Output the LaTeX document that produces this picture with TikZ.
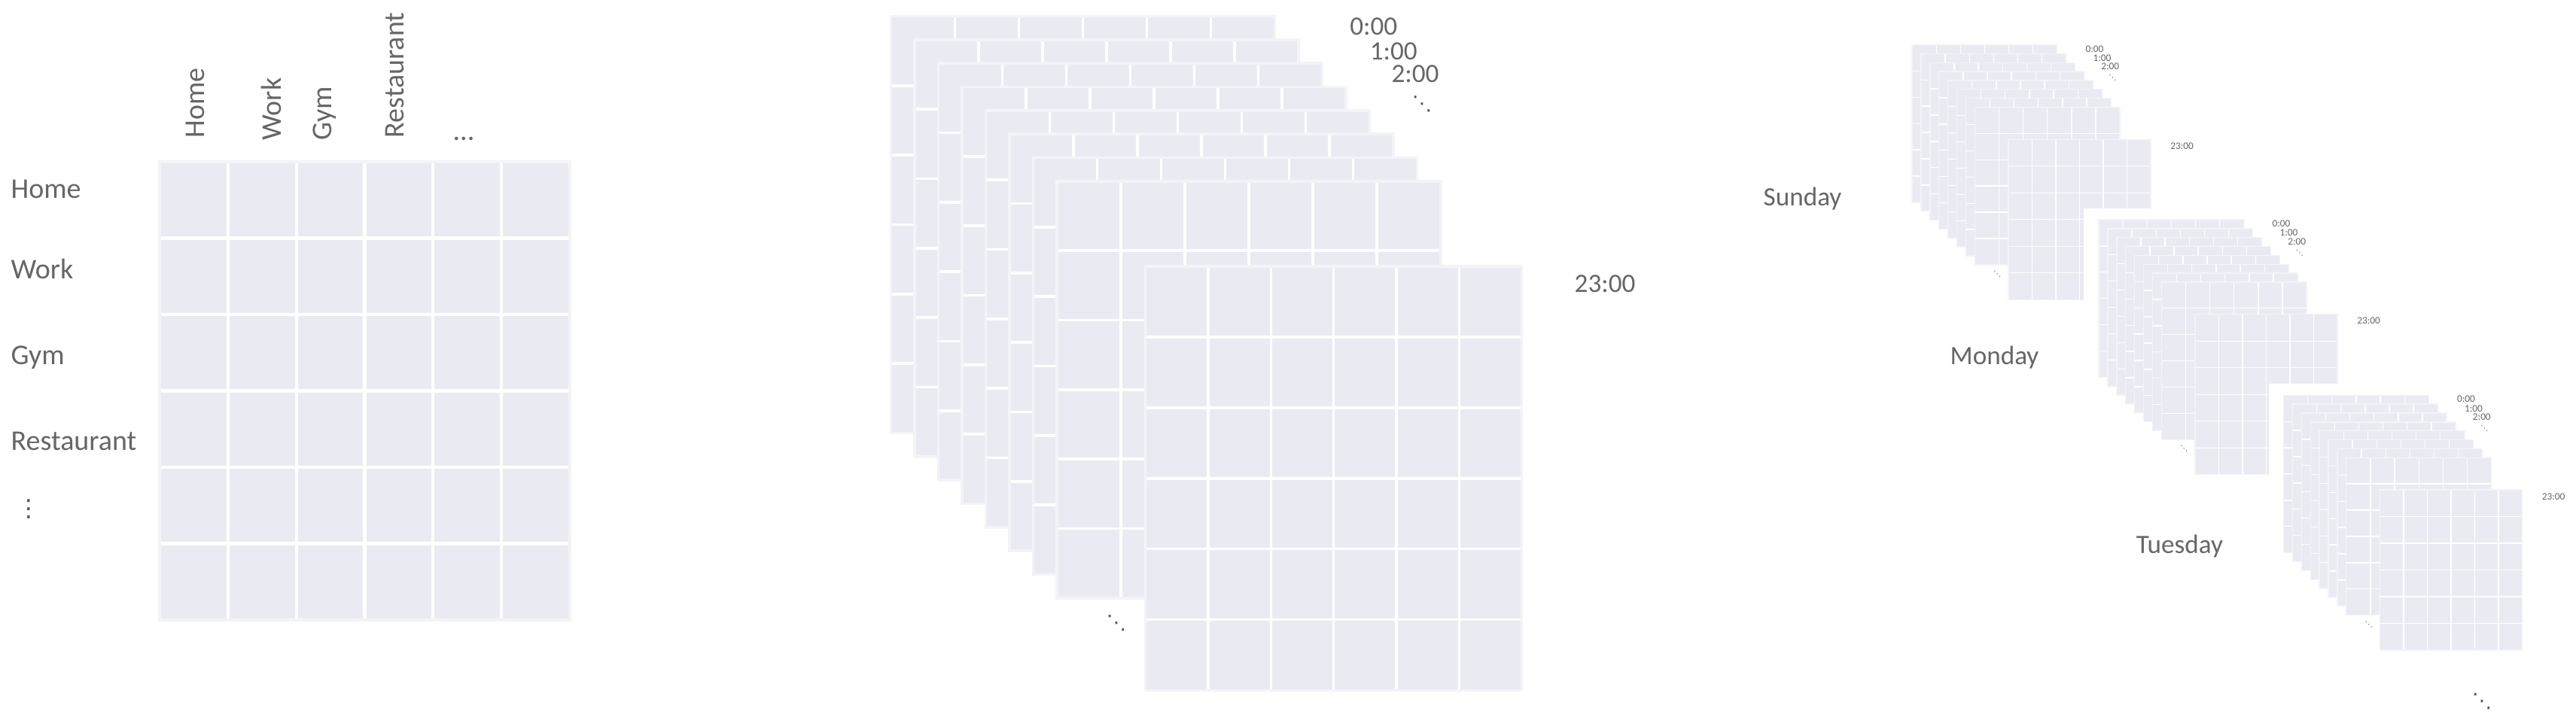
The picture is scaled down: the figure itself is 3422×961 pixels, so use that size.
\documentclass[tikz,border=0pt]{standalone}
\usepackage{fontspec}
\setmainfont{Carlito}
\newfontfamily\symfont{DejaVu Sans}
\definecolor{cellbg}{HTML}{EAEAF2}
\definecolor{celledge}{HTML}{F3F3F8}
\definecolor{txt}{HTML}{666666}
\tikzset{
  lbl/.style={text=txt,inner sep=0pt,font=\fontsize{10.8}{13}\selectfont},
  hr/.style={text=txt,inner sep=0pt,font=\fontsize{10}{12}\selectfont},
  dots/.style={text=txt!80!black,inner sep=0pt,font=\symfont\fontsize{7.5}{9}\selectfont},
}
% #1 x, #2 y, #3 w, #4 h, #5 line width
\newcommand\gridsheet[5]{%
  \fill[cellbg] (#1,#2) rectangle ++(#3,#4);
  \foreach \gi in {1,...,5}{
    \draw[white,line width=#5] ({#1+\gi*#3/6},#2) -- ++(0,#4);
    \draw[white,line width=#5] (#1,{#2+\gi*#4/6}) -- ++(#3,0);
  }
  \draw[celledge,line width=#5] (#1,#2) rectangle ++(#3,#4);
}
% #1 line width, #2 name prefix
\newcommand\hourstack[2]{%
  \foreach \k in {0,...,7}{
    \pgfmathsetmacro\ox{31.47*\k}
    \pgfmathsetmacro\oy{31.34*\k}
    \gridsheet{\ox}{\oy}{510}{554}{#1}
  }
  \gridsheet{338.2}{332.5}{500}{563.5}{#1}
  \node[hr] (#2-h0) at (641.2,14) {0:00};
  \node[hr] (#2-h1) at (667.8,46.3) {1:00};
  \node[hr] (#2-h2) at (696.5,77.2) {2:00};
  \node[dots] (#2-hd) at (705.5,117) {⋱};
  \node[hr] (#2-h23) at (948.5,356) {23:00};
  \node[dots] (#2-ld) at (299.5,806.5) {⋱};
}
\begin{document}
\begin{tikzpicture}[x=0.01cm,y=-0.01cm]
\useasboundingbox (0,0) rectangle (3422,961);
% ---------- left panel ----------
\gridsheet{212}{215}{545}{609}{1.15pt}
\node[lbl,anchor=base west] (rHome) at (14,264) {Home};
\node[lbl,anchor=base west] (rWork) at (14,370) {Work};
\node[lbl,anchor=base west] (rGym) at (14,484) {Gym};
\node[lbl,anchor=base west] (rRest) at (14,598) {Restaurant};
\node[dots,font=\symfont\fontsize{9}{11}\selectfont] (rDots) at (38,677) {⋮};
\node[lbl,anchor=base west,rotate=90] (cHome) at (271,184) {Home};
\node[lbl,anchor=base west,rotate=90] (cWork) at (373,187) {Work};
\node[lbl,anchor=base west,rotate=90] (cGym) at (440,187) {Gym};
\node[lbl,anchor=base west,rotate=90] (cRest) at (536,184) {Restaurant};
\node[lbl,anchor=base] (cDots) at (616,187) {...};
% ---------- middle panel ----------
\begin{scope}[shift={(1183.5,21.5)}]
  \hourstack{1pt}{mid}
\end{scope}
% ---------- right panel ----------
\begin{scope}[shift={(2540,59.5)},scale=0.378,transform shape]
  \hourstack{0.38pt}{sun}
\end{scope}
\begin{scope}[shift={(2788,292)},scale=0.378,transform shape]
  \fill[white] (-53,-40) rectangle (1010,960);
  \hourstack{0.38pt}{mon}
\end{scope}
\begin{scope}[shift={(3033.5,525.3)},scale=0.378,transform shape]
  \fill[white] (-53,-40) rectangle (1010,960);
  \hourstack{0.38pt}{tue}
\end{scope}
\node[hr,anchor=base west] (dSun) at (2342,273.3) {Sunday};
\node[hr,anchor=base west] (dMon) at (2590,484) {Monday};
\node[hr,anchor=base west] (dTue) at (2837,735.5) {Tuesday};
\node[dots] (dEnd) at (3297,932) {⋱};
\end{tikzpicture}
\end{document}
